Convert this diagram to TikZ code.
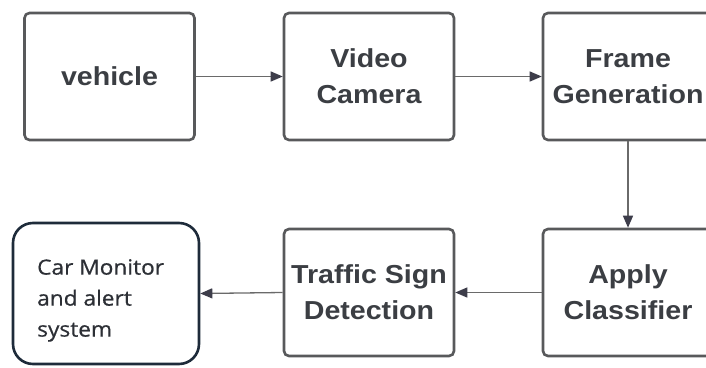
\documentclass[tikz,border=0pt]{standalone}
\usepackage{fontspec}
\usetikzlibrary{arrows.meta}
\newfontfamily\boxfont[FakeStretch=1.1]{Liberation Sans}
\newfontfamily\carfont[FakeStretch=1.08,FakeBold=0.6]{Open Sans}
\definecolor{boxline}{HTML}{58595B}
\definecolor{boxtext}{HTML}{3B3E43}
\definecolor{cartxtcol}{HTML}{2C2F35}
\definecolor{carline}{HTML}{1E2B3A}
\definecolor{arrline}{HTML}{6A6A6A}
\definecolor{arrhead}{HTML}{3D3D4A}
\tikzset{
  stepbox/.style={draw=boxline, line width=2.6pt, rounded corners=5pt, fill=white,
    minimum width=170pt, minimum height=127pt, align=center, text=boxtext,
    font=\boxfont\bfseries\fontsize{26}{36}\selectfont},
  carbox/.style={draw=carline, line width=2.6pt, rounded corners=20pt, fill=white,
    minimum width=186pt, minimum height=141pt},
  cartext/.style={align=left, text=cartxtcol, inner sep=0pt,
    font=\carfont\fontsize{21}{31}\selectfont},
  flow/.style={draw=arrline, line width=1.3pt,
    -{Triangle[length=12pt,width=10pt,fill=arrhead,color=arrhead]}}
}
\begin{document}
\begin{tikzpicture}[x=1pt,y=-1pt]
\useasboundingbox (0,0) rectangle (706,367);
\clip (0,0) rectangle (706,367);
\fill[white] (0,0) rectangle (706,367);
\node[stepbox] (veh) at (109.5,76.5) {vehicle};
\node[stepbox] (cam) at (369,76.5) {Video\\Camera};
\node[stepbox] (frm) at (628,76.5) {Frame\\Generation};
\node[stepbox] (app) at (628,292.5) {Apply\\Classifier};
\node[stepbox] (tsd) at (369,292.5) {Traffic Sign\\Detection};
\node[carbox] (car) at (106,293.5) {};
\node[cartext, anchor=north west] (cartxt) at (37,259) {Car Monitor\\and alert\\system};
\draw[flow] (veh.east) -- (cam.west);
\draw[flow] (cam.east) -- (frm.west);
\draw[flow] (frm.south) -- (app.north);
\draw[flow] (app.west) -- (tsd.east);
\draw[flow] (tsd.west) -- (car.east);
\end{tikzpicture}
\end{document}
